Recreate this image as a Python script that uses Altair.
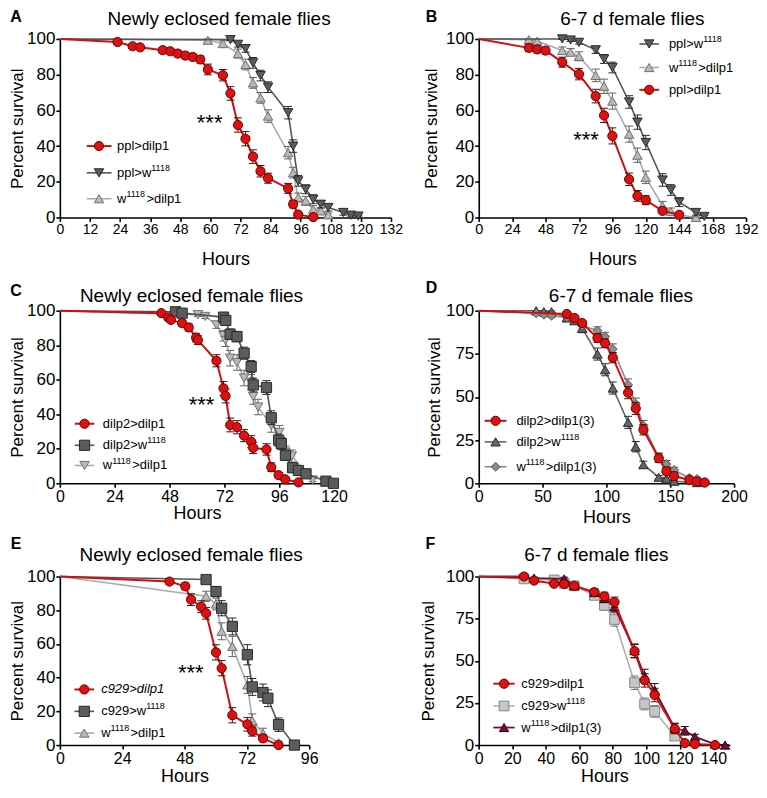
import altair as alt
import pandas as pd

FONT = "Liberation Sans"

# ---------------- Panel A ----------------
A_red_h = [23, 29, 32, 41, 44, 47, 50, 53, 56, 59, 65, 68, 71, 74, 77, 80, 83, 91, 93, 95, 101]
A_red_v = [98.3, 95.9, 95.3, 93.7, 93.1, 91.8, 90.7, 89.9, 88.5, 82.9, 79.7, 69.5, 51.8, 44.1, 34.1, 25.9, 22.0, 16.3, 7.4, 1.6, 0.2]
A_red_se = [1.0, 1.2, 1.2, 1.5, 1.5, 1.8, 1.8, 1.8, 2.0, 3.0, 3.2, 3.8, 4.0, 4.0, 3.8, 3.2, 2.8, 2.8, 2.0, 1.0, 0.3]
A_dk_h = [68, 71, 74, 77, 80, 83, 91, 93, 95, 98, 101, 104, 107, 113, 116, 119]
A_dk_v = [99.6, 97.0, 94.6, 86.6, 79.5, 73.0, 58.7, 40.0, 20.5, 15.8, 10.2, 7.4, 5.6, 2.8, 1.3, 0.8]
A_dk_se = [0.5, 1.5, 2.0, 3.0, 3.0, 3.0, 3.5, 3.5, 3.0, 2.5, 2.5, 2.0, 2.0, 1.5, 1.0, 0.5]
A_lt_h = [59, 65, 71, 74, 77, 80, 83, 91, 93, 95, 98, 101, 104, 107]
A_lt_v = [99.3, 97.4, 91.8, 85.7, 75.4, 67.0, 56.8, 36.3, 25.1, 11.2, 9.3, 4.6, 3.7, 1.5]
A_lt_se = [1.0, 1.5, 2.5, 3.0, 3.0, 3.0, 3.5, 3.5, 3.0, 2.5, 2.5, 2.0, 1.5, 1.0]

# ---------------- Panel B ----------------
B_red_h = [36, 42, 48, 60, 72, 84, 90, 96, 108, 114, 120, 132, 144]
B_red_v = [95.0, 94.2, 93.5, 87.0, 80.3, 68.0, 57.2, 45.7, 21.4, 12.1, 9.7, 3.7, 1.5]
B_red_se = [2.0, 2.0, 2.0, 2.8, 3.2, 3.8, 4.0, 4.5, 3.5, 3.0, 2.5, 1.5, 1.0]
B_dk_h = [60, 66, 72, 84, 90, 96, 108, 114, 120, 132, 138, 144, 156, 162]
B_dk_v = [100, 99.4, 98.1, 93.9, 88.8, 84.0, 64.7, 53.4, 42.0, 21.0, 15.4, 8.6, 2.8, 0.6]
B_dk_se = [0.3, 0.8, 1.0, 2.0, 2.5, 3.0, 3.5, 4.0, 4.0, 3.5, 3.0, 2.5, 1.5, 0.5]
B_lt_h = [36, 42, 60, 66, 72, 84, 90, 96, 108, 114, 120, 132, 138, 144, 156]
B_lt_v = [99.6, 98.8, 93.5, 92.6, 90.3, 79.6, 73.5, 65.2, 46.7, 34.9, 22.5, 6.5, 3.3, 1.5, 0.0]
B_lt_se = [0.5, 1.0, 2.0, 2.0, 2.5, 3.5, 4.0, 4.5, 4.5, 4.0, 3.5, 2.5, 2.0, 1.0, 0.3]

# ---------------- Panel C ----------------
C_red_h = [44.4, 47.4, 48.6, 53.5, 56.4, 59.6, 60.4, 68.5, 71.6, 72.5, 74.5, 77.5, 80.6, 83.7, 84.6, 90.4, 92.5, 95.7, 98.6, 104.4]
C_red_v = [98.6, 96.1, 94.7, 92.8, 90.3, 84.4, 83.0, 71.0, 55.0, 50.6, 33.8, 32.5, 27.6, 24.1, 20.5, 19.6, 9.3, 4.7, 2.3, 0.5]
C_red_se = [1.0, 1.5, 1.5, 1.8, 2.0, 2.5, 2.5, 3.5, 4.0, 4.0, 4.0, 3.8, 3.5, 3.5, 3.3, 3.3, 2.5, 1.5, 1.0, 0.5]
C_dk_h = [50.6, 53.5, 71.6, 72.6, 74.5, 77.5, 80.6, 83.7, 84.6, 90.4, 92.5, 95.7, 96.9, 98.7, 101.8, 104.4, 107.7, 116.4, 119.7]
C_dk_v = [99.4, 98.6, 96.3, 94.4, 86.4, 85.0, 75.4, 67.6, 57.0, 55.5, 38.0, 25.0, 23.0, 16.2, 9.0, 7.4, 5.5, 1.2, 0.0]
C_dk_se = [0.5, 0.8, 1.5, 2.0, 3.0, 3.0, 3.5, 3.5, 4.0, 4.0, 4.0, 3.5, 3.5, 3.0, 2.5, 2.5, 2.0, 1.0, 0.5]
C_lt_h = [60.4, 63.6, 68.5, 71.6, 72.5, 74.5, 77.5, 80.6, 83.7, 84.6, 86.7, 92.5, 96.0, 98.7, 101.5, 110.6]
C_lt_v = [97.7, 96.7, 91.8, 85.5, 82.8, 72.5, 70.0, 61.0, 58.5, 50.3, 44.2, 33.6, 29.5, 18.1, 15.8, 1.9]
C_lt_se = [1.0, 1.2, 2.0, 3.0, 3.5, 4.5, 4.5, 4.5, 4.5, 4.5, 4.5, 4.0, 4.0, 3.5, 3.5, 1.0]

# ---------------- Panel D ----------------
D_red_h = [69, 75, 81, 93, 99, 105, 117, 123, 129, 141, 147, 153, 165, 171, 177]
D_red_v = [98.1, 95.8, 92.9, 84.2, 81.1, 72.8, 52.5, 43.4, 31.0, 14.5, 7.0, 4.2, 1.9, 1.0, 0.4]
D_red_se = [1.0, 1.2, 1.5, 2.5, 2.5, 3.0, 3.5, 3.5, 3.0, 2.5, 2.0, 1.5, 1.0, 0.7, 0.5]
D_dk_h = [45, 51, 57, 69, 75, 81, 93, 99, 105, 117, 123, 129, 141, 147, 153, 171]
D_dk_v = [100, 99.4, 99.4, 95.8, 94.2, 89.8, 74.9, 65.8, 55.2, 35.3, 21.2, 10.8, 3.5, 2.5, 1.2, 0.4]
D_dk_se = [0.3, 0.5, 0.5, 1.5, 2.0, 2.5, 3.5, 3.5, 3.5, 3.5, 3.0, 2.0, 1.0, 1.0, 0.6, 0.3]
D_dm_h = [45, 51, 57, 69, 75, 81, 93, 99, 105, 117, 123, 129, 141, 147, 153, 165, 171, 177]
D_dm_v = [98.5, 97.7, 97.1, 96.1, 95.2, 91.3, 88.5, 85.0, 77.8, 57.0, 45.9, 33.4, 15.1, 11.2, 7.7, 3.1, 2.5, 0.6]
D_dm_se = [1.0, 1.0, 1.0, 1.2, 1.5, 2.0, 2.2, 2.5, 3.0, 3.5, 3.5, 3.0, 2.5, 2.0, 1.5, 1.0, 1.0, 0.5]

# ---------------- Panel E ----------------
E_red_h = [42.2, 48.3, 50.5, 54.4, 56.3, 60.1, 62.3, 66.4, 72.2, 74.1, 78.2, 84.2]
E_red_v = [97.0, 94.2, 86.3, 82.1, 78.2, 55.0, 45.6, 17.7, 12.3, 8.3, 4.0, 0.0]
E_red_se = [1.5, 2.0, 3.5, 3.5, 3.5, 4.5, 4.5, 4.5, 4.0, 3.0, 2.0, 0.5]
E_dk_h = [56.3, 60.1, 62.3, 66.4, 72.2, 74.1, 78.2, 80.1, 84.2, 90.3]
E_dk_v = [98.2, 91.1, 81.2, 70.4, 53.6, 34.5, 31.2, 27.8, 12.1, 0.0]
E_dk_se = [0.8, 3.0, 4.5, 5.0, 6.0, 5.0, 5.0, 5.0, 4.0, 0.5]
E_lt_h = [56.3, 60.1, 62.3, 66.4, 72.2, 74.1, 78.2, 84.2]
E_lt_v = [88.3, 83.7, 67.5, 58.5, 35.7, 14.5, 7.0, 1.4]
E_lt_se = [3.0, 3.5, 5.0, 6.0, 5.0, 4.0, 3.0, 1.0]

# ---------------- Panel F ----------------
F_red_h = [27, 33, 45, 51, 57, 69, 75, 81, 93, 99, 105, 117, 123, 129, 141]
F_red_v = [100, 97.6, 95.7, 95.5, 94.5, 90.7, 88.2, 84.8, 55.7, 38.4, 29.7, 9.7, 1.2, 0.6, 0.0]
F_red_se = [0.3, 1.0, 1.5, 1.5, 1.5, 2.0, 2.5, 3.0, 4.0, 4.0, 4.0, 3.0, 1.0, 0.5, 0.2]
F_sq_h = [27, 45, 51, 57, 69, 75, 81, 93, 99, 105, 117]
F_sq_v = [98.6, 98.0, 96.0, 94.5, 88.8, 82.9, 74.5, 37.0, 24.4, 20.0, 5.3]
F_sq_se = [1.0, 1.0, 1.5, 1.5, 2.0, 3.0, 4.0, 4.0, 3.5, 3.5, 2.0]
F_pu_h = [33, 51, 57, 69, 75, 81, 93, 99, 105, 117, 123, 129, 141, 147]
F_pu_v = [99.0, 98.6, 94.5, 90.5, 87.0, 82.0, 56.0, 41.0, 32.5, 10.0, 8.5, 4.9, 0.6, 0.0]
F_pu_se = [0.5, 1.0, 1.5, 2.0, 2.5, 3.0, 4.0, 4.0, 4.0, 3.0, 2.5, 1.5, 0.5, 0.2]

# ---------------- styles ----------------
RED = dict(line="#cc1111", lw=2.0, fill="#dd1111", stroke="#6a0000", err="#4a1010", shape="circle", size=85)
DARK = dict(line="#555555", lw=1.6, fill="#5c5c5c", stroke="#2a2a2a", err="#2a2a2a", size=90)
LIGHT = dict(line="#ababab", lw=1.6, fill="#b8b8b8", stroke="#707070", err="#606060", size=90)
DIAM = dict(line="#8a8a8a", lw=1.6, fill="#8c8c8c", stroke="#555555", err="#555555", shape="diamond", size=80)
FSQ = dict(line="#b0b0b0", lw=1.6, fill="#c6c6c6", stroke="#888888", err="#777777", shape="square", size=95)
PURP = dict(line="#6e0f3c", lw=1.8, fill="#6e0f3c", stroke="#3a0020", err="#3a0020", shape="triangle-up", size=90)

# Arial / Liberation Sans advance widths (em) for legend text layout
ADV = {"p": 0.556, "l": 0.222, ">": 0.584, "w": 0.722, "d": 0.556, "i": 0.222, "1": 0.556,
       "2": 0.556, "3": 0.556, "8": 0.556, "9": 0.556, "c": 0.5, "(": 0.333, ")": 0.333}
LEG_FS = 13
SUP_FS = 9


def S(h, v, se, style, **kw):
    d = dict(style)
    d.update(kw)
    d.update(h=h, v=v, se=se)
    return d


AXIS = dict(grid=False, domainColor="black", domainWidth=1.6, tickColor="black", tickWidth=1.6,
            tickSize=4, labelColor="black", titleColor="black", labelFont=FONT, titleFont=FONT,
            titleFontWeight="normal", labelPadding=1, labelFlush=False, labelOverlap=False)


def make_panel(p):
    w, hgt = p["w"], p["h"]

    def xf(field):
        return alt.X(field, type="quantitative",
                     scale=alt.Scale(domain=[0, p["xmax"]], nice=False, zero=True),
                     axis=alt.Axis(values=p["xticks"], title="Hours", titleFontSize=18,
                                   labelFontSize=p["xfs"], titlePadding=p["xtp"], **AXIS))

    def yf(field):
        return alt.Y(field, type="quantitative",
                     scale=alt.Scale(domain=[0, 100], nice=False, zero=True),
                     axis=alt.Axis(values=p["yticks"], title="Percent survival", titleFontSize=17,
                                   labelFontSize=17, titlePadding=p["ytp"], **AXIS))

    layers = []
    for s in p["series"]:
        line_df = pd.DataFrame({"h": [0] + list(s["h"]), "v": [100] + list(s["v"])})
        pts = pd.DataFrame({
            "h": s["h"], "v": s["v"],
            "lo": [max(0.0, a - b) for a, b in zip(s["v"], s["se"])],
            "hi": [min(100.0, a + b) for a, b in zip(s["v"], s["se"])],
        })
        layers.append(alt.Chart(line_df).mark_line(color=s["line"], strokeWidth=s["lw"])
                      .encode(x=xf("h"), y=yf("v")))
        layers.append(alt.Chart(pts).mark_rule(color=s["err"], strokeWidth=1)
                      .encode(x=xf("h"), y=yf("lo"), y2=alt.Y2("hi")))
        for fld in ("lo", "hi"):
            layers.append(alt.Chart(pts).mark_tick(orient="horizontal", size=8, thickness=1,
                                                   color=s["err"], opacity=1)
                          .encode(x=xf("h"), y=yf(fld)))
        layers.append(alt.Chart(pts).mark_point(shape=s["shape"], filled=True, size=s["size"],
                                                fill=s["fill"], stroke=s["stroke"], strokeWidth=1,
                                                opacity=1)
                      .encode(x=xf("h"), y=yf("v")))

    # legend drawn in data coordinates
    lg = p["legend"]
    for (segs, s, italic), yv in zip(lg["items"], lg["v"]):
        rdf = pd.DataFrame({"h": [lg["x1"]], "h2": [lg["x2"]], "v": [yv]})
        layers.append(alt.Chart(rdf).mark_rule(color=s["line"], strokeWidth=s["lw"])
                      .encode(x=xf("h"), x2=alt.X2("h2"), y=yf("v")))
        mdf = pd.DataFrame({"h": [lg["xm"]], "v": [yv]})
        layers.append(alt.Chart(mdf).mark_point(shape=s["shape"], filled=True, size=s["size"],
                                                fill=s["fill"], stroke=s["stroke"], strokeWidth=1,
                                                opacity=1)
                      .encode(x=xf("h"), y=yf("v")))
        off = 0.0
        for seg, sup in segs:
            fs = SUP_FS if sup else LEG_FS
            tdf = pd.DataFrame({"h": [lg["xt"]], "v": [yv], "t": [seg]})
            layers.append(alt.Chart(tdf).mark_text(align="left", baseline="middle", fontSize=fs,
                                                   font=FONT, color="black", dx=off,
                                                   dy=-5 if sup else 0,
                                                   fontStyle="italic" if italic else "normal")
                          .encode(x=xf("h"), y=yf("v"), text="t:N"))
            off += sum(ADV.get(ch, 0.556) for ch in seg) * fs

    if p.get("stars"):
        sdf = pd.DataFrame({"h": [p["stars"][0]], "v": [p["stars"][1]], "t": ["***"]})
        layers.append(alt.Chart(sdf).mark_text(align="center", baseline="middle", fontSize=22,
                                               font=FONT, color="black")
                      .encode(x=xf("h"), y=yf("v"), text="t:N"))

    tdf = pd.DataFrame({"t": [p["title"]]})
    layers.append(alt.Chart(tdf).mark_text(align="center", baseline="middle", fontSize=19,
                                           font=FONT, color="black")
                  .encode(x=alt.value(p["tx"]), y=alt.value(-p["ty"]), text="t:N"))
    ldf = pd.DataFrame({"t": [p["letter"]]})
    layers.append(alt.Chart(ldf).mark_text(align="center", baseline="middle", fontSize=16,
                                           font=FONT, fontWeight="bold", color="black")
                  .encode(x=alt.value(p["lx"]), y=alt.value(p["ly"]), text="t:N"))

    return alt.layer(*layers).properties(width=w, height=hgt)


NE = "Newly eclosed female flies"
OLD = "6-7 d female flies"
Y20 = [0, 20, 40, 60, 80, 100]
Y25 = [0, 25, 50, 75, 100]


def lab(*parts):
    # parts alternate normal text and superscript text
    return [(t, i % 2 == 1) for i, t in enumerate(parts) if t]


a_red = S(A_red_h, A_red_v, A_red_se, RED)
a_dk = S(A_dk_h, A_dk_v, A_dk_se, DARK, shape="triangle-down")
a_lt = S(A_lt_h, A_lt_v, A_lt_se, LIGHT, shape="triangle-up")
pA = dict(w=332, h=179, xmax=132, xticks=list(range(0, 133, 12)), yticks=Y20, xfs=14, xtp=14, ytp=0,
          title=NE, tx=159.6, ty=20, letter="A", lx=-44, ly=-21.5, stars=(59.7, 53.1),
          series=[a_lt, a_dk, a_red],
          legend=dict(items=[(lab("ppl>dilp1"), a_red, False), (lab("ppl>w", "1118"), a_dk, False),
                             (lab("w", "1118", ">dilp1"), a_lt, False)],
                      v=[40, 25, 10.5], x1=10.7, x2=20.6, xm=15.6, xt=22.8))

b_red = S(B_red_h, B_red_v, B_red_se, RED)
b_dk = S(B_dk_h, B_dk_v, B_dk_se, DARK, shape="triangle-down")
b_lt = S(B_lt_h, B_lt_v, B_lt_se, LIGHT, shape="triangle-up")
pB = dict(w=268, h=179, xmax=192, xticks=list(range(0, 193, 24)), yticks=Y20, xfs=14.5, xtp=15, ytp=5,
          title=OLD, tx=154, ty=20, letter="B", lx=-47.4, ly=-21.5, stars=(77, 43.4),
          series=[b_lt, b_dk, b_red],
          legend=dict(items=[(lab("ppl>w", "1118"), b_dk, False), (lab("w", "1118", ">dilp1"), b_lt, False),
                             (lab("ppl>dilp1"), b_red, False)],
                      v=[97.2, 84, 71.5], x1=115.4, x2=129.5, xm=122.4, xt=136.6))

c_red = S(C_red_h, C_red_v, C_red_se, RED)
c_dk = S(C_dk_h, C_dk_v, C_dk_se, DARK, shape="square", size=105)
c_lt = S(C_lt_h, C_lt_v, C_lt_se, LIGHT, shape="triangle-down")
pC = dict(w=275, h=173, xmax=120, xticks=list(range(0, 121, 24)), yticks=Y20, xfs=16, xtp=0, ytp=0,
          title=NE, tx=132, ty=14.5, letter="C", lx=-44, ly=-20, stars=(62, 45.6),
          series=[c_lt, c_dk, c_red],
          legend=dict(items=[(lab("dilp2>dilp1"), c_red, False), (lab("dilp2>w", "1118"), c_dk, False),
                             (lab("w", "1118", ">dilp1"), c_lt, False)],
                      v=[34.5, 22, 10.3], x1=6.5, x2=15.1, xm=10.8, xt=18.8))

d_red = S(D_red_h, D_red_v, D_red_se, RED)
d_dk = S(D_dk_h, D_dk_v, D_dk_se, DARK, shape="triangle-up", line="#666666", fill="#666666")
d_dm = S(D_dm_h, D_dm_v, D_dm_se, DIAM)
pD = dict(w=256, h=173, xmax=200, xticks=[0, 50, 100, 150, 200], yticks=Y25, xfs=16, xtp=4, ytp=2,
          title=OLD, tx=142.6, ty=15, letter="D", lx=-47.4, ly=-23, stars=None,
          series=[d_dk, d_dm, d_red],
          legend=dict(items=[(lab("dilp2>dilp1(3)"), d_red, False), (lab("dilp2>w", "1118"), d_dk, False),
                             (lab("w", "1118", ">dilp1(3)"), d_dm, False)],
                      v=[36.2, 24, 9.6], x1=4.6, x2=21.7, xm=13.2, xt=29.5))

e_red = S(E_red_h, E_red_v, E_red_se, RED)
e_dk = S(E_dk_h, E_dk_v, E_dk_se, DARK, shape="square", size=105)
e_lt = S(E_lt_h, E_lt_v, E_lt_se, LIGHT, shape="triangle-up")
pE = dict(w=250, h=169, xmax=96, xticks=list(range(0, 97, 24)), yticks=Y20, xfs=16, xtp=2, ytp=0,
          title=NE, tx=131.6, ty=22, letter="E", lx=-44, ly=-33, stars=(50.4, 42.6),
          series=[e_lt, e_dk, e_red],
          legend=dict(items=[(lab("c929>dilp1"), e_red, True), (lab("c929>w", "1118"), e_dk, False),
                             (lab("w", "1118", ">dilp1"), e_lt, False)],
                      v=[33, 20, 7.1], x1=5.6, x2=13.2, xm=9.4, xt=15.9))

f_red = S(F_red_h, F_red_v, F_red_se, RED)
f_sq = S(F_sq_h, F_sq_v, F_sq_se, FSQ)
f_pu = S(F_pu_h, F_pu_v, F_pu_se, PURP)
pF = dict(w=252, h=169, xmax=150, xticks=list(range(0, 141, 20)), yticks=Y25, xfs=16, xtp=2, ytp=8.5,
          title=OLD, tx=118, ty=22, letter="F", lx=-48.4, ly=-33, stars=None,
          series=[f_sq, f_pu, f_red],
          legend=dict(items=[(lab("c929>dilp1"), f_red, False), (lab("c929>w", "1118"), f_sq, False),
                             (lab("w", "1118", ">dilp1(3)"), f_pu, False)],
                      v=[36.4, 23.2, 10.4], x1=8.7, x2=21.4, xm=15.1, xt=25.4))

panels = [make_panel(p) for p in (pA, pB, pC, pD, pE, pF)]

chart = alt.concat(*panels, columns=2, spacing={"row": 93.5, "column": 88},
                   bounds="flush", align="each").configure_view(stroke=None).properties(padding=0)

chart.save("out.html", embed_options={"renderer": "svg", "actions": False})
